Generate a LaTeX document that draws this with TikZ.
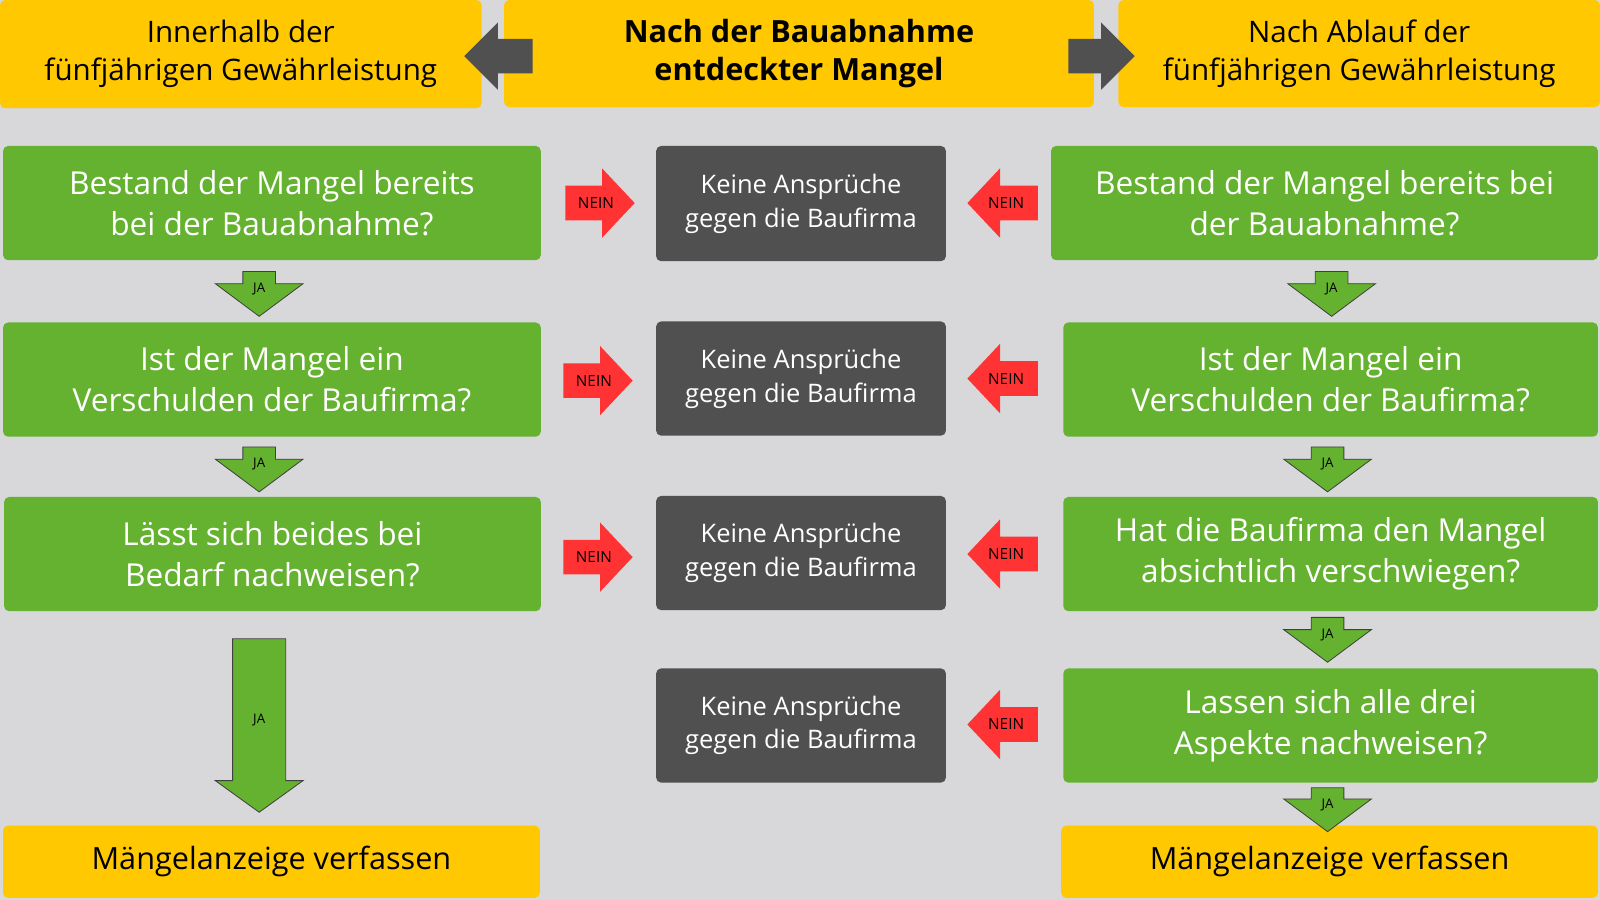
\documentclass[tikz,border=0pt]{standalone}
\usepackage{fontspec}
\setmainfont{Open Sans}
\definecolor{bg}{HTML}{D8D8DA}
\definecolor{ylw}{HTML}{FFC800}
\definecolor{grn}{HTML}{64B22F}
\definecolor{dgr}{HTML}{505050}
\definecolor{red}{HTML}{FF3333}
\definecolor{agr}{HTML}{505050}
\newcommand\boxat[6]{\node[#1,minimum width=#4-#2,minimum height=#5-#3] (#6) at ({(#2+#4)/2},{(#3+#5)/2})}
% right arrow: x1 x2 yc label
\newcommand\rarr[5]{\fill[#5] (#1,#3-17)--(#2-32,#3-17)--(#2-32,#3-34)--(#2,#3)--(#2-32,#3+34)--(#2-32,#3+17)--(#1,#3+17)--cycle;
 \node[font=\fontsize{15}{15}\selectfont] at ({#1+30},#3) {#4};}
\newcommand\larr[5]{\fill[#5] (#2,#3-17)--(#1+32,#3-17)--(#1+32,#3-34)--(#1,#3)--(#1+32,#3+34)--(#1+32,#3+17)--(#2,#3+17)--cycle;
 \node[font=\fontsize{15}{15}\selectfont] at ({#2-31},#3) {#4};}
% down arrow: xc ytop ybottom
\newcommand\darr[3]{\filldraw[grn,draw=dgr!80!black,line width=0.8pt] (#1-16,#2)--(#1+16,#2)--(#1+16,#3-32)--(#1+43,#3-32)--(#1,#3)--(#1-43,#3-32)--(#1-16,#3-32)--cycle;
 \node[font=\fontsize{13}{13}\selectfont] at (#1,{#2+17}) {JA};}
\begin{document}
\begin{tikzpicture}[x=1pt,y=-1pt,
 ybox/.style={fill=ylw,rounded corners=5,align=center,inner sep=0,font=\fontsize{29}{37}\selectfont},
 gbox/.style={fill=grn,rounded corners=5,align=center,inner sep=0,text=white,font=\fontsize{31}{40}\selectfont},
 kbox/.style={fill=dgr,rounded corners=5,align=center,inner sep=0,text=white,font=\fontsize{25}{33}\selectfont}]
\fill[bg] (0,0) rectangle (1568,882);
\useasboundingbox (0,0) rectangle (1568,882);
\boxat{ybox}{0}{0}{472}{106}{h1} {Innerhalb der\\fünfjährigen Gewährleistung};
\boxat{ybox,font=\fontsize{30}{38}\selectfont\bfseries}{494}{0}{1072}{105}{h2} {Nach der Bauabnahme\\entdeckter Mangel};
\boxat{ybox}{1096}{0}{1568}{105}{h3} {Nach Ablauf der\\fünfjährigen Gewährleistung};
\fill[agr] (522,38)--(488,38)--(488,22)--(455,55)--(488,88)--(488,72)--(522,72)--cycle;
\fill[agr] (1047,38)--(1079,38)--(1079,22)--(1112,55)--(1079,88)--(1079,72)--(1047,72)--cycle;
% left column
\boxat{gbox}{3}{143}{530}{255}{l1} {Bestand der Mangel bereits\\bei der Bauabnahme?};
\boxat{gbox}{3}{316}{530}{428}{l2} {Ist der Mangel ein\\Verschulden der Baufirma?};
\boxat{gbox}{4}{487}{530}{599}{l3} {Lässt sich beides bei\\Bedarf nachweisen?};
\boxat{ybox,font=\fontsize{30}{38}\selectfont}{3}{809}{529}{880}{l4} {Mängelanzeige verfassen};
% middle
\boxat{kbox}{643}{143}{927}{256}{m1} {Keine Ansprüche\\gegen die Baufirma};
\boxat{kbox}{643}{315}{927}{427}{m2} {Keine Ansprüche\\gegen die Baufirma};
\boxat{kbox}{643}{486}{927}{598}{m3} {Keine Ansprüche\\gegen die Baufirma};
\boxat{kbox}{643}{655}{927}{767}{m4} {Keine Ansprüche\\gegen die Baufirma};
% right column
\boxat{gbox}{1030}{143}{1566}{255}{r1} {Bestand der Mangel bereits bei\\der Bauabnahme?};
\boxat{gbox}{1042}{316}{1566}{428}{r2} {Ist der Mangel ein\\Verschulden der Baufirma?};
\boxat{gbox}{1042}{487}{1566}{599}{r3} {Hat die Baufirma den Mangel\\absichtlich verschwiegen?};
\boxat{gbox}{1042}{655}{1566}{767}{r4} {Lassen sich alle drei\\Aspekte nachweisen?};
\boxat{ybox,font=\fontsize{30}{38}\selectfont}{1040}{809}{1566}{880}{r5} {Mängelanzeige verfassen};
% red arrows
\rarr{554}{622}{199}{NEIN}{red}
\rarr{552}{620}{373}{NEIN}{red}
\rarr{552}{620}{546}{NEIN}{red}
\larr{948}{1017}{199}{NEIN}{red}
\larr{948}{1017}{371}{NEIN}{red}
\larr{948}{1017}{543}{NEIN}{red}
\larr{948}{1017}{710}{NEIN}{red}
% green down arrows
\darr{254}{266}{310}
\darr{254}{438}{482}
\darr{1305}{266}{310}
\darr{1301}{438}{482}
\darr{1301}{605}{649}
\darr{1301}{772}{815}
\filldraw[grn,draw=dgr!80!black,line width=0.8pt] (228,626)--(280,626)--(280,765)--(297,765)--(254,796)--(211,765)--(228,765)--cycle;
\node[font=\fontsize{13}{13}\selectfont] at (254,706) {JA};
\end{tikzpicture}
\end{document}
